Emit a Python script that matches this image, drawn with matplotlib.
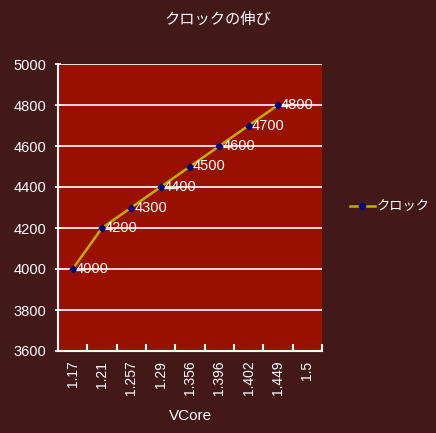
import matplotlib
matplotlib.use("Agg")
import matplotlib.pyplot as plt

plt.rcParams['font.family'] = ['Liberation Sans', 'Noto Sans CJK JP', 'DejaVu Sans']

# data
vcore = ['1.17', '1.21', '1.257', '1.29', '1.356', '1.396', '1.402', '1.449', '1.5']
clock = [4000, 4200, 4300, 4400, 4500, 4600, 4700, 4800]
yticks = [3600, 3800, 4000, 4200, 4400, 4600, 4800, 5000]

bg = '#431818'
plot_bg = '#9a1000'

fig = plt.figure(figsize=(4.36, 4.33), dpi=100, facecolor=bg)
ax = fig.add_axes([58/436, (433-351)/433, 264/436, (351-64)/433])
ax.set_facecolor(plot_bg)

xs = list(range(len(clock)))
ax.plot(xs, clock, color='#bfae00', lw=1.8, marker='D', ms=3.5,
        mfc='#000080', mec='#000080', label='クロック', zorder=3)
for x, y in zip(xs, clock):
    ax.text(x + 0.1, y, str(y), color='white', fontsize=10.5,
            ha='left', va='center', zorder=4)

ax.set_xlim(-0.5, len(vcore) - 0.5)
ax.set_ylim(3600, 5000)
ax.set_yticks(yticks)
ax.set_yticklabels([str(v) for v in yticks])
ax.set_xticks(range(len(vcore)))
ax.set_xticklabels(vcore, rotation=90)
ax.set_xticks([i + 0.5 for i in range(len(vcore))], minor=True)
ax.tick_params(axis='x', which='major', length=0, pad=7, colors='white', labelsize=10)
ax.tick_params(axis='x', which='minor', direction='in', length=5, color='white', width=1.5)
ax.tick_params(axis='y', direction='inout', length=5, color='white', width=1.2,
               labelcolor='white', labelsize=10.5, pad=6)

ax.grid(axis='y', color='white', lw=1.2)
ax.set_axisbelow(True)
for s in ['top', 'right']:
    ax.spines[s].set_visible(False)
for s in ['left', 'bottom']:
    ax.spines[s].set_color('white')
    ax.spines[s].set_linewidth(1.5)

ax.set_xlabel('VCore', color='white', fontsize=11, labelpad=10)
fig.text(0.5, 1 - 20/433, 'クロックの伸び', color='white', fontsize=11,
         ha='center', va='center')

leg = fig.legend(loc='center left', bbox_to_anchor=(338/436, 1 - 207/433),
                 frameon=False, fontsize=9.5, handlelength=1.9, handletextpad=0.1)
for t in leg.get_texts():
    t.set_color('white')

fig.savefig('out.png', dpi=100, facecolor=bg)
